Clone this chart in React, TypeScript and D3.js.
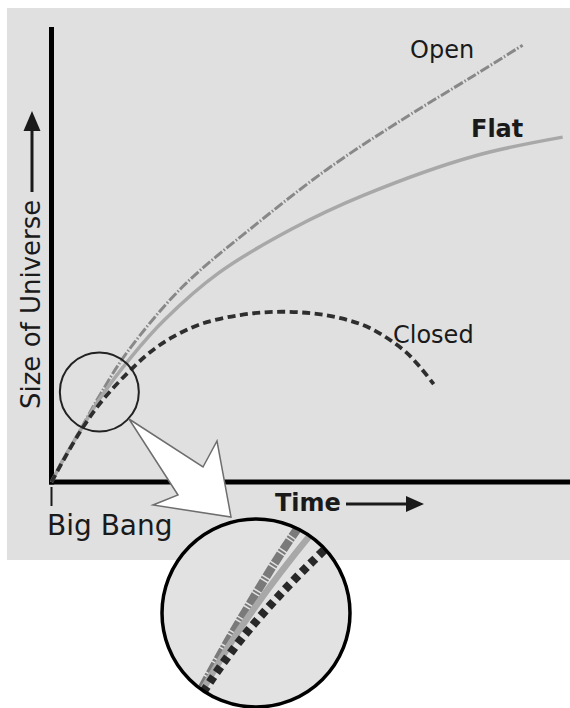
import React, { useEffect, useRef } from 'react';
import * as d3 from 'd3';

// time (0-100) vs size of universe (0-100)
const OPEN_T = [0, 2.1, 5.6, 9.4, 14.6, 25.2, 39.2, 53.1, 67.1, 81.2, 90.6];
const OPEN_S = [0, 4.6, 11.6, 19.3, 28.6, 42.9, 56.5, 68.8, 79.4, 89.3, 96.0];

const FLAT_T = [0, 2.1, 5.6, 9.4, 15.2, 21.7, 32.1, 46.2, 60.2, 81.2, 98.3];
const FLAT_S = [0, 4.6, 11.4, 18.5, 27.3, 35.6, 45.9, 55.6, 63.1, 71.6, 75.8];

const CLOSED_T = [0, 2.1, 5.6, 8.8, 11.9, 15.2, 18.5, 22.9, 28.7, 36.3, 43.1, 49.8, 55.6, 61.3, 67.7, 71.0, 73.5];
const CLOSED_S = [0, 4.4, 11.2, 16.5, 20.7, 24.6, 28.1, 31.6, 34.7, 36.7, 37.4, 37.1, 36.0, 33.8, 29.0, 25.1, 21.5];

const LABELS = ['Open', 'Flat', 'Closed'];

// the lens on the early universe, and where the magnifier looks
const LENS = [9.2, 19.8];
const FOCUS = [10.6, 19.8];

const W = 570, H = 708;
const INK = '#1a1a1a';
const FONT = '"DejaVu Sans", Verdana, sans-serif';

const zip = (t: number[], s: number[]) => t.map((v, i) => [v, s[i]] as [number, number]);

export default function App() {
  const ref = useRef<SVGSVGElement>(null);

  useEffect(() => {
    const svg = d3.select(ref.current);
    svg.selectAll('*').remove();

    const x = d3.scaleLinear().domain([0, 100]).range([51.5, 571.5]);
    const y = d3.scaleLinear().domain([0, 100]).range([482, 27]);

    const series = [
      { name: LABELS[0], pts: zip(OPEN_T, OPEN_S), color: '#888888', w: 3, dash: '10,2,1.5,2', iw: 8.5, idash: '11,1.5,2,1.5', icolor: '#7a7a7a' },
      { name: LABELS[1], pts: zip(FLAT_T, FLAT_S), color: '#a8a8a8', w: 3.5, dash: null, iw: 6.5, idash: null, icolor: '#a8a8a8' },
      { name: LABELS[2], pts: zip(CLOSED_T, CLOSED_S), color: '#2e2e2e', w: 3.8, dash: '8,4.5', iw: 8.5, idash: '7,5', icolor: '#282828' },
    ];

    // background panel
    svg.append('rect')
      .attr('x', 7).attr('y', 8).attr('width', W - 7).attr('height', 552)
      .attr('fill', '#e0e0e0');

    // axes
    svg.append('line')
      .attr('x1', x(0)).attr('x2', x(0)).attr('y1', y(100)).attr('y2', y(0) + 2.5)
      .attr('stroke', '#000').attr('stroke-width', 5);
    svg.append('line')
      .attr('x1', x(0) - 2.5).attr('x2', W).attr('y1', y(0)).attr('y2', y(0))
      .attr('stroke', '#000').attr('stroke-width', 5);
    svg.append('line')
      .attr('x1', x(0)).attr('x2', x(0)).attr('y1', y(0) + 5).attr('y2', y(0) + 24)
      .attr('stroke', INK).attr('stroke-width', 2);

    const line = d3.line<[number, number]>()
      .x(d => x(d[0])).y(d => y(d[1]))
      .curve(d3.curveCatmullRom.alpha(0.5));

    series.forEach(s => {
      svg.append('path')
        .attr('d', line(s.pts))
        .attr('fill', 'none')
        .attr('stroke', s.color)
        .attr('stroke-width', s.w)
        .attr('stroke-dasharray', s.dash)
        .attr('stroke-linecap', 'butt');
    });

    // curve labels
    const lab = (txt: string, lx: number, ly: number, size: number, bold = false) =>
      svg.append('text')
        .attr('x', lx).attr('y', ly)
        .attr('font-family', FONT).attr('font-size', size)
        .attr('font-weight', bold ? 'bold' : 'normal')
        .attr('fill', INK).text(txt);

    lab(LABELS[0], 410, 58, 24);
    lab(LABELS[1], 471, 137, 24, true);
    lab(LABELS[2], 393, 343, 24);
    lab('Time', 275, 511, 24, true);
    lab('Big Bang', 47, 535, 28);

    svg.append('text')
      .attr('transform', 'translate(40,409) rotate(-90)')
      .attr('font-family', FONT).attr('font-size', 26)
      .attr('fill', INK).text('Size of Universe');

    // axis arrows
    svg.append('line').attr('x1', 32).attr('x2', 32).attr('y1', 192).attr('y2', 126)
      .attr('stroke', INK).attr('stroke-width', 3);
    svg.append('path').attr('d', 'M32,111 L23.5,131 L40.5,131 Z').attr('fill', INK);
    svg.append('line').attr('x1', 346).attr('x2', 410).attr('y1', 504).attr('y2', 504)
      .attr('stroke', INK).attr('stroke-width', 3);
    svg.append('path').attr('d', 'M424,504 L406,496 L406,512 Z').attr('fill', INK);

    // lens on the early universe
    const lr = 39.5;
    svg.append('circle')
      .attr('cx', x(LENS[0])).attr('cy', y(LENS[1])).attr('r', lr)
      .attr('fill', 'none').attr('stroke', '#222').attr('stroke-width', 2);

    // white callout arrow
    svg.append('path')
      .attr('d', 'M129,419 L203,467 L217,441 L231,517 L153,505 L178,495 Z')
      .attr('fill', '#fff').attr('stroke', '#6e6e6e').attr('stroke-width', 1.5)
      .attr('stroke-linejoin', 'miter');

    // magnified inset
    const cx = 256, cy = 613, R = 94;
    const K = R / lr;
    const fx = x(FOCUS[0]), fy = y(FOCUS[1]);
    const xi = x.copy().range(x.range().map(v => cx + K * (v - fx)));
    const yi = y.copy().range(y.range().map(v => cy + K * (v - fy)));

    const defs = svg.append('defs');
    defs.append('clipPath').attr('id', 'inset-clip')
      .append('circle').attr('cx', cx).attr('cy', cy).attr('r', R);

    svg.append('circle').attr('cx', cx).attr('cy', cy).attr('r', R).attr('fill', '#e2e2e2');

    const lineI = d3.line<[number, number]>()
      .x(d => xi(d[0])).y(d => yi(d[1]))
      .curve(d3.curveCatmullRom.alpha(0.5));

    const gi = svg.append('g').attr('clip-path', 'url(#inset-clip)');
    series.forEach(s => {
      gi.append('path')
        .attr('d', lineI(s.pts))
        .attr('fill', 'none')
        .attr('stroke', s.icolor)
        .attr('stroke-width', s.iw)
        .attr('stroke-dasharray', s.idash);
    });

    svg.append('circle').attr('cx', cx).attr('cy', cy).attr('r', R)
      .attr('fill', 'none').attr('stroke', '#000').attr('stroke-width', 3.5);
  }, []);

  return (
    <div style={{ position: 'absolute', left: 0, top: 0, width: W, height: H, background: '#fff' }}>
      <svg ref={ref} width={W} height={H} style={{ display: 'block' }} />
    </div>
  );
}
